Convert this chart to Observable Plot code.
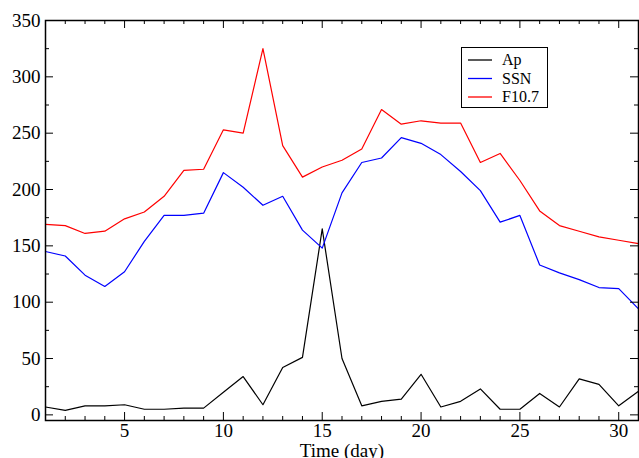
<!DOCTYPE html>
<html><head><meta charset="utf-8">
<script src="https://cdn.jsdelivr.net/npm/d3@7"></script>
<script src="https://cdn.jsdelivr.net/npm/@observablehq/plot@0.6"></script>
<style>body{margin:0;background:#fff}#c{position:relative;width:639px;height:458px}
#lg{position:absolute;left:461px;top:47px}</style>
</head><body><div id="c"></div>
<script>
const FONT = "'Liberation Serif', 'DejaVu Serif', 'Nimbus Roman', 'Times New Roman', Tinos, FreeSerif, serif";
const days = d3.range(1, 32);
const ap = [7,4,8,8,9,5,5,6,6,20,34,9,42,51,165,50,8,12,14,36,7,12,23,5,5,19,7,32,27,8,21];
const ssn = [145,141,124,114,127,154,177,177,179,215,202,186,194,164,148,197,224,228,246,241,231,216,199,171,177,133,126,120,113,112,94];
const f107 = [169,168,161,163,174,180,194,217,218,253,250,325,239,211,220,226,236,271,258,261,259,259,224,232,208,181,168,163,158,155,152];
const series = [["Ap", ap, "#000"], ["SSN", ssn, "#00f"], ["F10.7", f107, "#f00"]];
const yMin = -5, yMax = 350, xMin = 1, xMax = 31;
const xMajor = [5,10,15,20,25,30], yMajor = d3.range(0, 351, 50), yMinor = d3.range(25, 351, 50);
const data = series.flatMap(([name, vals]) => vals.map((v, i) => ({name, day: days[i], v})));
const ticks = [];
for (const d of days) { const L = xMajor.includes(d) ? 8 : 4;
  ticks.push(Plot.ruleX([d], {y1: yMin, y2: yMin + L*355/400, stroke: "#000"}));
  ticks.push(Plot.ruleX([d], {y1: yMax, y2: yMax - L*355/400, stroke: "#000"})); }
for (const v of [...yMajor, ...yMinor]) { const L = yMajor.includes(v) ? 8 : 4;
  ticks.push(Plot.ruleY([v], {x1: xMin, x2: xMin + L*30/593, stroke: "#000"}));
  ticks.push(Plot.ruleY([v], {x1: xMax, x2: xMax - L*30/593, stroke: "#000"})); }
const p = Plot.plot({
  width: 639, height: 458, marginLeft: 45, marginRight: 1, marginTop: 20, marginBottom: 38,
  style: {fontFamily: FONT, fontSize: "19px", color: "#000"},
  x: {domain: [xMin, xMax], ticks: xMajor, tickSize: 0, tickPadding: 3, label: "Time (day)", labelAnchor: "center", labelArrow: "none", labelOffset: 36},
  y: {domain: [yMin, yMax], ticks: yMajor, tickSize: 0, tickPadding: 5, label: null},
  color: {domain: series.map(s => s[0]), range: series.map(s => s[2])},
  marks: [
    Plot.line(data, {x: "day", y: "v", z: "name", stroke: "name", strokeWidth: 1.2}),
    ...ticks,
    Plot.frame({stroke: "#000", strokeWidth: 1.5})
  ]
});
document.getElementById("c").appendChild(p);
const lg = d3.select("#c").append("div").attr("id", "lg").append("svg").attr("width", 88).attr("height", 62);
lg.append("rect").attr("x", 0.5).attr("y", 0.5).attr("width", 86).attr("height", 60).attr("fill", "#fff").attr("stroke", "#000");
series.forEach(([n,,c], i) => {
  const y = 13 + i * 18.5;
  lg.append("line").attr("x1", 7).attr("x2", 31).attr("y1", y).attr("y2", y).attr("stroke", c).attr("stroke-width", 1.3);
  lg.append("text").attr("x", 41).attr("y", y + 5).attr("font-family", FONT).attr("font-size", 16).attr("fill", "#000").text(n);
});
</script></body></html>
